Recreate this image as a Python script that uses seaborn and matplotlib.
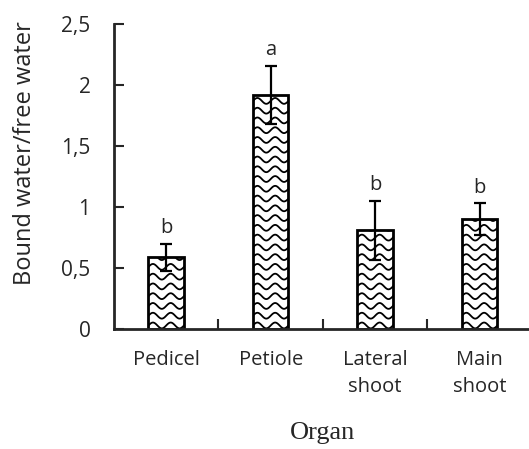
# bound/free water ratio by organ - bar chart with SE bars

import numpy as np
import pandas as pd
import matplotlib
matplotlib.use('Agg')
import matplotlib.pyplot as plt
import matplotlib.ticker as mticker
import seaborn as sns

organs  = ['Pedicel', 'Petiole', 'Lateral\nshoot', 'Main\nshoot']
ratio   = [0.59, 1.92, 0.81, 0.90]
err     = [0.11, 0.24, 0.24, 0.13]
letters = ['b', 'a', 'b', 'b']

df = pd.DataFrame({'organ': organs, 'ratio': ratio})

sns.set_style('ticks')
plt.rcParams['font.family'] = ['Open Sans', 'DejaVu Sans']

fig = plt.figure(figsize=(5.29, 4.49), dpi=100)
ax = fig.add_axes([0.2155, 0.267, 0.79, 0.6795])

sns.barplot(data=df, x='organ', y='ratio', color='white', edgecolor='black',
            linewidth=2, width=0.34, errorbar=None, ax=ax, zorder=2)

# wavy fill, clipped to each bar
for p in ax.patches:
    x0, w = p.get_x(), p.get_width()
    h = p.get_height()
    xs = np.linspace(x0 - 0.02, x0 + w + 0.02, 60)
    for yb in np.arange(0.03, h + 0.1, 0.08):
        ys = yb + 0.024 * np.sin((xs - x0) * 2 * np.pi / 0.17)
        ln, = ax.plot(xs, ys, color='black', lw=1.3, zorder=2.5)
        ln.set_clip_path(p)

ax.errorbar(range(len(organs)), ratio, yerr=err, fmt='none', ecolor='black',
            elinewidth=1.6, capsize=4.5, capthick=1.6, zorder=3)

for i, (v, e, l) in enumerate(zip(ratio, err, letters)):
    ax.annotate(l, (i, v + e), xytext=(0, 4), textcoords='offset points',
                ha='center', va='bottom', fontsize=14.5)

ax.set_xlim(-0.5, 3.5)
ax.set_ylim(0, 2.5)
ax.set_yticks(np.arange(0, 2.51, 0.5))
ax.yaxis.set_major_formatter(mticker.FuncFormatter(
    lambda v, _: f'{v:g}'.replace('.', ',')))
ax.tick_params(axis='y', direction='in', length=7, width=1.5, pad=17,
               labelsize=15)
ax.tick_params(axis='x', length=0, pad=15, labelsize=14.5)
for t in ax.get_xticklabels():
    t.set_linespacing(1.5)
ax.set_xticks([0.5, 1.5, 2.5], minor=True)
ax.tick_params(axis='x', which='minor', direction='in', length=7, width=1.5)

for s in ['left', 'bottom']:
    ax.spines[s].set_linewidth(2)
sns.despine(ax=ax)

ax.set_ylabel('Bound water/free water', fontsize=17)
ax.yaxis.set_label_coords(-0.184, 0.577)
ax.set_xlabel('Organ', fontsize=19, family='Liberation Serif', labelpad=18)

fig.savefig('out.png', dpi=100)
